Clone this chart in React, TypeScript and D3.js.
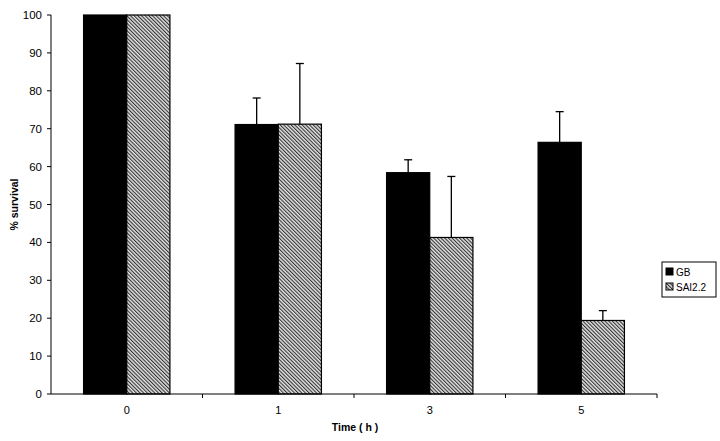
import React from "react";
import * as d3 from "d3";

const categories = ["0", "1", "3", "5"];
const seriesNames = ["GB", "SAI2.2"];
const gbValues = [100, 71.1, 58.4, 66.4];
const gbErrors = [0, 7, 3.4, 8.1];
const saiValues = [100, 71.2, 41.3, 19.4];
const saiErrors = [0, 16, 16.1, 2.6];
const yTicks = [0, 10, 20, 30, 40, 50, 60, 70, 80, 90, 100];

const W = 720;
const H = 441;
const left = 51;
const right = 657;
const top = 15;
const bottom = 394;

export default function App() {
  const x = d3.scaleBand<string>().domain(categories).range([left, right]).padding(0);
  const bw = x.bandwidth();
  const sub = d3
    .scaleBand<string>()
    .domain(seriesNames)
    .range([bw * 0.215, bw * 0.785])
    .padding(0);
  const y = d3.scaleLinear().domain([0, 100]).range([bottom, top]);
  const series = [
    { name: seriesNames[0], values: gbValues, errors: gbErrors, fill: "#000" },
    { name: seriesNames[1], values: saiValues, errors: saiErrors, fill: "url(#hatch)" },
  ];
  const font = "'Liberation Sans', Arial, sans-serif";
  return (
    <svg
      width={W}
      height={H}
      style={{ position: "absolute", left: 0, top: 0, background: "#fff" }}
      fontFamily={font}
    >
      <defs>
        <pattern id="hatch" width="2.6" height="2.6" patternUnits="userSpaceOnUse" patternTransform="rotate(-45)">
          <rect width="2.6" height="2.6" fill="#e4e4e4" />
          <rect x="0" y="0" width="1.1" height="2.6" fill="#333" />
        </pattern>
      </defs>
      {/* bars */}
      {series.map((s) =>
        categories.map((c, i) => {
          const bx = (x(c) as number) + (sub(s.name) as number);
          const w = sub.bandwidth();
          const v = s.values[i];
          return (
            <g key={s.name + c}>
              <rect
                x={bx}
                y={y(v)}
                width={w}
                height={bottom - y(v)}
                fill={s.fill}
                stroke="#000"
                strokeWidth={1.2}
              />
              {s.errors[i] > 0 && (
                <g stroke="#000" strokeWidth={1.3}>
                  <line x1={bx + w / 2} x2={bx + w / 2} y1={y(v)} y2={y(v + s.errors[i])} />
                  <line x1={bx + w / 2 - 4} x2={bx + w / 2 + 4} y1={y(v + s.errors[i])} y2={y(v + s.errors[i])} />
                </g>
              )}
            </g>
          );
        })
      )}
      {/* y axis */}
      <line x1={left} x2={left} y1={top} y2={bottom} stroke="#000" strokeWidth={1} />
      {yTicks.map((t) => (
        <g key={t}>
          <line x1={left - 4} x2={left} y1={y(t)} y2={y(t)} stroke="#000" />
          <text x={left - 9} y={y(t)} dy="0.35em" textAnchor="end" fontSize={11.5}>
            {t}
          </text>
        </g>
      ))}
      {/* x axis */}
      <line x1={left} x2={right} y1={bottom} y2={bottom} stroke="#000" strokeWidth={1} />
      {categories.map((c) => (
        <g key={c}>
          <line
            x1={(x(c) as number) + bw}
            x2={(x(c) as number) + bw}
            y1={bottom}
            y2={bottom + 4}
            stroke="#000"
          />
          <text x={(x(c) as number) + bw / 2} y={bottom + 20} textAnchor="middle" fontSize={11}>
            {c}
          </text>
        </g>
      ))}
      <text x={(left + right) / 2 + 1} y={431} textAnchor="middle" fontSize={10.5} fontWeight="bold">
        Time ( h )
      </text>
      <text
        transform={`translate(18, ${(top + bottom) / 2}) rotate(-90)`}
        textAnchor="middle"
        fontSize={10.5}
        fontWeight="bold"
      >
        % survival
      </text>
      {/* legend */}
      <rect x={662} y={262} width={54} height={35} fill="#fff" stroke="#000" strokeWidth={1} />
      {series.map((s, i) => (
        <g key={s.name}>
          <rect x={666} y={268 + i * 15} width={7} height={7} fill={s.fill} stroke="#000" strokeWidth={1} />
          <text x={676} y={272 + i * 15} dy="0.35em" fontSize={10}>
            {s.name}
          </text>
        </g>
      ))}
    </svg>
  );
}
